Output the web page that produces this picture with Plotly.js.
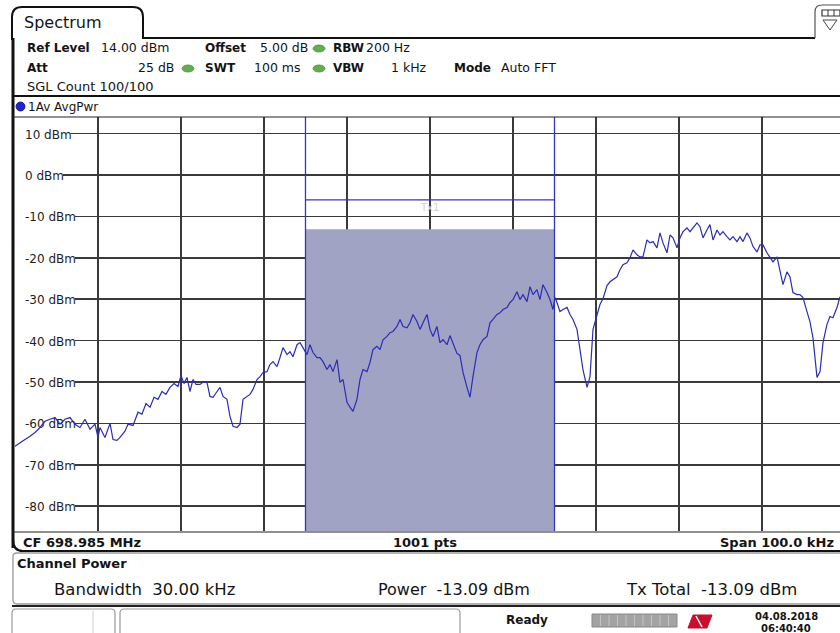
<!DOCTYPE html>
<html>
<head>
<meta charset="utf-8">
<script src="https://cdn.plot.ly/plotly-3.0.1.min.js"></script>
<style>
html,body{margin:0;padding:0;background:#fff;overflow:hidden;}
#chart{width:840px;height:633px;}
</style>
</head>
<body>
<div id="chart"></div>
<script>
// ---------------- data ----------------
// frequency offset from CF (kHz), span 100 kHz
const freqKHz = [-50.0,-49.4,-48.8,-48.19,-47.59,-46.99,-46.39,-45.78,-45.18,-44.58,-43.98,-43.37,-42.77,-42.17,-41.57,-40.96,-40.36,-40.0,-39.76,-39.16,-38.55,-38.19,-37.71,-37.35,-36.75,-36.39,-35.78,-35.18,-34.7,-34.22,-33.73,-33.25,-32.77,-32.29,-31.81,-31.33,-30.84,-30.36,-30.0,-29.64,-29.28,-28.92,-28.55,-28.19,-27.71,-27.35,-26.87,-26.51,-26.14,-25.66,-25.3,-24.94,-24.46,-24.1,-23.73,-23.25,-22.89,-22.53,-22.05,-21.69,-21.33,-20.84,-20.48,-20.12,-19.64,-19.28,-18.92,-18.43,-18.07,-17.71,-17.23,-16.87,-16.51,-16.02,-15.66,-15.3,-14.82,-14.46,-14.1,-13.61,-13.25,-12.89,-12.41,-12.05,-11.69,-11.2,-10.84,-10.48,-10.0,-9.64,-9.28,-8.8,-8.43,-8.07,-7.59,-7.23,-6.87,-6.39,-6.02,-5.66,-5.18,-4.82,-4.46,-3.98,-3.61,-3.25,-2.77,-2.41,-2.05,-1.57,-1.2,-0.84,-0.36,0,0.36,0.84,1.2,1.57,2.05,2.41,2.77,3.25,3.61,3.98,4.46,4.82,5.18,5.66,6.02,6.39,6.87,7.23,7.59,8.07,8.43,8.8,9.28,9.64,10.0,10.48,10.84,11.2,11.69,12.05,12.41,12.89,13.25,13.61,14.1,14.46,14.82,15.06,15.3,15.66,16.02,16.51,16.87,17.23,17.71,18.07,18.43,18.92,19.28,19.64,20.12,20.48,20.84,21.33,21.69,22.05,22.53,22.89,23.25,23.73,24.1,24.46,24.94,25.3,25.66,26.14,26.51,26.87,27.35,27.71,28.07,28.55,28.92,29.28,29.76,30.12,30.48,30.96,31.33,31.69,32.17,32.53,32.89,33.37,33.73,34.1,34.58,34.94,35.3,35.78,36.14,36.51,36.99,37.35,37.71,38.19,38.55,38.92,39.4,39.76,40.12,40.6,40.96,41.33,41.81,42.17,42.53,43.01,43.37,43.73,44.22,44.58,44.94,45.42,45.78,46.14,46.63,46.99,47.35,47.83,48.19,48.55,49.04,49.4];
// trace 1 (Av AvgPwr), dBm
const levelDBm = [-65.5,-64.6,-63.9,-63.1,-62.2,-61.0,-59.5,-59.0,-58.6,-60.2,-59.0,-58.6,-60.2,-61.0,-59.0,-61.4,-60.2,-63.4,-61.0,-63.4,-60.0,-63.9,-64.1,-63.4,-61.9,-60.2,-60.5,-57.3,-57.8,-55.2,-56.1,-53.7,-54.2,-52.3,-53.0,-51.3,-50.4,-51.1,-48.4,-50.4,-48.9,-52.3,-49.4,-50.6,-50.6,-50.1,-50.1,-53.5,-53.7,-52.3,-51.3,-53.5,-54.2,-58.3,-60.7,-61.0,-60.2,-54.2,-53.5,-53.0,-51.8,-49.4,-48.7,-47.7,-47.5,-45.8,-45.1,-46.3,-44.1,-41.7,-43.4,-42.7,-43.9,-41.0,-40.5,-41.7,-43.4,-41.0,-42.9,-44.1,-44.1,-45.1,-47.0,-45.8,-47.5,-44.6,-50.1,-49.4,-54.9,-56.1,-57.1,-54.2,-49.4,-47.0,-47.5,-45.3,-42.2,-41.4,-42.2,-39.8,-39.0,-38.1,-37.8,-36.6,-34.9,-36.6,-36.9,-35.7,-33.7,-35.4,-37.3,-35.7,-33.7,-37.3,-39.0,-36.6,-40.5,-39.8,-41.0,-38.8,-40.5,-43.1,-43.6,-47.7,-51.3,-53.7,-48.7,-42.9,-41.0,-39.8,-39.0,-35.7,-34.9,-33.7,-33.3,-32.5,-32.0,-30.8,-30.1,-28.2,-30.1,-28.9,-30.6,-27.0,-28.9,-27.7,-30.1,-26.5,-28.4,-30.1,-32.5,-29.6,-30.8,-33.0,-32.5,-32.0,-33.7,-34.9,-37.3,-42.2,-47.0,-51.3,-48.7,-37.3,-33.7,-31.3,-29.9,-26.7,-25.8,-25.3,-24.6,-22.9,-21.7,-21.2,-20.0,-18.1,-19.3,-19.8,-19.8,-15.7,-16.4,-16.1,-17.6,-14.0,-16.4,-18.8,-14.5,-15.2,-17.6,-15.2,-13.7,-12.8,-13.7,-12.8,-11.6,-12.5,-15.2,-13.3,-12.0,-15.7,-13.3,-14.5,-13.7,-14.9,-15.7,-14.9,-16.1,-14.9,-16.1,-14.0,-15.2,-17.3,-18.6,-16.9,-16.9,-18.8,-20.0,-21.0,-19.8,-23.4,-26.5,-23.4,-24.6,-28.4,-28.9,-28.9,-29.6,-33.0,-35.4,-39.3,-48.9,-47.5,-40.5,-36.1,-34.2,-34.5,-32.0,-29.4];

const yTickVals   = [10, 0, -10, -20, -30, -40, -50, -60, -70, -80];
const yTickLabels = ['10 dBm','0 dBm','-10 dBm','-20 dBm','-30 dBm','-40 dBm','-50 dBm','-60 dBm','-70 dBm','-80 dBm'];
const xGridVals   = [-40, -30, -20, -10, 0, 10, 20, 30, 40];

const refLevel = 14;          // dBm (top of grid)
const bottomLevel = -86;      // dBm (bottom of grid)
const spanKHz = 100;
const channelBWkHz = 30;
const channelPowerDBm = -13.09;
const txTotalDBm = -13.09;
const channelBracketDBm = -6;

// ---------------- geometry helpers (page px -> paper) ----------------
const L = 15, T = 117, PW = 825, PH = 414;
const xMin = -spanKHz / 2, xMax = 49.4;
const px = x => (x - L) / PW;
const py = y => (T + PH - y) / PH;
const FONT = 'DejaVu Sans, Verdana, sans-serif';
const INK = '#141414';

const shapes = [];
const annotations = [];

function txt(x, y, text, o) {
  o = o || {};
  annotations.push({
    xref: 'paper', yref: 'paper', x: px(x), y: py(y),
    xanchor: o.anchor || 'left', yanchor: 'middle', showarrow: false,
    text: o.bold ? '<b>' + text + '</b>' : text,
    font: {family: FONT, size: o.size || 13, color: o.color || INK}
  });
}
function pline(x0, y0, x1, y1, color, width) {
  shapes.push({type: 'line', xref: 'paper', yref: 'paper',
    x0: px(x0), y0: py(y0), x1: px(x1), y1: py(y1),
    line: {color: color, width: width}});
}
function ppath(d, color, width, fill) {
  const s = d.replace(/(-?\d+(\.\d+)?),(-?\d+(\.\d+)?)/g, (m, a, b, c, e) => px(+a).toFixed(5) + ',' + py(+c).toFixed(5));
  shapes.push({type: 'path', xref: 'paper', yref: 'paper', path: s,
    line: {color: color, width: width}, fillcolor: fill || 'rgba(0,0,0,0)'});
}
function pcircle(x0, y0, x1, y1, fill, lc) {
  shapes.push({type: 'circle', xref: 'paper', yref: 'paper',
    x0: px(x0), y0: py(y0), x1: px(x1), y1: py(y1),
    fillcolor: fill, line: {color: lc || fill, width: 0.8}});
}

// ---------------- channel power region ----------------
const chLo = -channelBWkHz / 2, chHi = channelBWkHz / 2;
shapes.push({type: 'rect', xref: 'x', yref: 'y', x0: chLo, x1: chHi, y0: bottomLevel, y1: channelPowerDBm,
  fillcolor: '#a0a3c4', line: {width: 0}, layer: 'between'});
shapes.push({type: 'line', xref: 'x', yref: 'y', x0: chLo, x1: chLo, y0: bottomLevel, y1: refLevel,
  line: {color: '#3434c4', width: 1.3}, layer: 'between'});
shapes.push({type: 'line', xref: 'x', yref: 'y', x0: chHi, x1: chHi, y0: bottomLevel, y1: refLevel,
  line: {color: '#3434c4', width: 1.3}, layer: 'between'});
shapes.push({type: 'line', xref: 'x', yref: 'y', x0: chLo, x1: chHi, y0: channelBracketDBm, y1: channelBracketDBm,
  line: {color: '#3434c4', width: 1.2}, layer: 'between'});
annotations.push({xref: 'x', yref: 'y', x: 0, y: channelBracketDBm - 1.9, text: 'Tx1', showarrow: false,
  font: {family: FONT, size: 10, color: '#cfd0da'}});

// ---------------- y tick labels on white boxes (under the trace) ----------------
const meas = document.createElement('canvas').getContext('2d');
meas.font = '12px "DejaVu Sans"';
const pxPerKHz = PW / (xMax - xMin);
yTickVals.forEach((v, i) => {
  const w = meas.measureText(yTickLabels[i]).width;
  shapes.push({type: 'rect', xref: 'x', yref: 'y',
    x0: xMin, x1: xMin + (7 + w + 2) / pxPerKHz, y0: v - 1.7, y1: v + 1.7,
    fillcolor: '#ffffff', line: {width: 0}, layer: 'between',
    label: {text: yTickLabels[i], textposition: 'middle left', padding: 7,
      font: {family: FONT, size: 12, color: '#1e1e1e'}}});
});

// ---------------- frame / chrome ----------------
// tab "Spectrum"
ppath('M12,40 L12,17 Q12,7 22,7 L133,7 Q143,7 143,17 L143,38 L815,38', '#111', 2);
txt(22, 22, 'Spectrum', {size: 16});
// top-right icon
ppath('M815,38 L815,12 Q815,5 822,5 L845,5 L845,38', '#555', 1.2);
shapes.push({type: 'rect', xref: 'paper', yref: 'paper', x0: px(822), x1: px(840), y0: py(16), y1: py(10),
  fillcolor: '#ffffff', line: {color: '#333', width: 1.2}});
pline(828, 10, 828, 16, '#333', 1); pline(834, 10, 834, 16, '#333', 1);
ppath('M823,20 L837,20 L830,30 Z', '#444', 1);

// left border
pline(13, 38, 13, 548, '#111', 3);
// separator lines
pline(12, 96, 840, 96, '#111', 2);
pline(12, 117, 840, 117, '#222', 1.2);
pline(12, 532, 840, 532, '#222', 1.2);
ppath('M13,540 Q13,551 23,551 L840,551', '#111', 2.2);

// info block
const g = '#62ad4f';
const S = 12.5;
txt(25, 48, 'Ref Level', {bold: true, size: 12});
txt(99, 48, refLevel.toFixed(2) + ' dBm', {size: S});
txt(203, 48, 'Offset', {bold: true, size: 12});
txt(258, 48, '5.00 dB', {size: S});
pcircle(313, 45, 325, 52, g, '#4d8c3d');
txt(331, 48, 'RBW', {bold: true, size: 12});
txt(364, 48, '200 Hz', {size: S});

txt(25, 68, 'Att', {bold: true, size: 12});
txt(176, 68, '25 dB', {anchor: 'right', size: S});
pcircle(182, 65, 194, 72, g, '#4d8c3d');
txt(203, 68, 'SWT', {bold: true, size: 12});
txt(303, 68, '100 ms', {anchor: 'right', size: S});
pcircle(313, 65, 325, 72, g, '#4d8c3d');
txt(331, 68, 'VBW', {bold: true, size: 12});
txt(429, 68, '1 kHz', {anchor: 'right', size: S});
txt(452, 68, 'Mode', {bold: true, size: 12});
txt(499, 68, 'Auto FFT', {size: S});
txt(25, 87, 'SGL Count 100/100');

// trace label
pcircle(16, 102, 25, 111, '#1f22d8', '#0b0b60');
txt(26, 106.5, '1Av AvgPwr', {size: 12});

// bottom bar of diagram
txt(21, 542, 'CF 698.985 MHz', {bold: true});
txt(425, 542, '1001 pts', {bold: true, anchor: 'center'});
txt(836, 542, 'Span ' + spanKHz.toFixed(1) + ' kHz', {bold: true, anchor: 'right'});

// channel power panel
ppath('M13,556 Q13,553 17,553 L845,553 M13,556 L13,600 Q13,604 17,604 L845,604', '#9a9a9a', 1.3);
txt(15, 563, 'Channel Power', {bold: true});
txt(52, 589, 'Bandwidth&nbsp;&nbsp;' + channelBWkHz.toFixed(2) + ' kHz', {size: 16.5});
txt(376, 589, 'Power&nbsp;&nbsp;' + channelPowerDBm.toFixed(2) + ' dBm', {size: 16});
txt(624, 589, 'Tx Total&nbsp;&nbsp;' + txTotalDBm.toFixed(2) + ' dBm', {size: 16.5});

// status bar
pline(12, 606, 840, 606, '#222', 2);
ppath('M12,633 L12,613 Q12,609 16,609 L111,609 Q115,609 115,613 L115,633', '#9a9a9a', 1.2);
pline(93, 611, 93, 633, '#d0d0d0', 1);
ppath('M120,633 L120,613 Q120,609 124,609 L456,609 Q460,609 460,613 L460,633', '#9a9a9a', 1.2);
txt(527, 620, 'Ready', {bold: true, size: 12, anchor: 'center'});
shapes.push({type: 'rect', xref: 'paper', yref: 'paper', x0: px(592), x1: px(677), y0: py(627), y1: py(614),
  fillcolor: '#a3a3a3', line: {color: '#8a8a8a', width: 1}});
for (let k = 1; k < 10; k++) pline(592 + k * 8.5, 615, 592 + k * 8.5, 626, '#c4c4c4', 1);
ppath('M688,628 L693,615 L712,615 L707,628 Z', '#c8102e', 1, '#c8102e');
pline(696, 616, 702, 627, '#ffffff', 1.5);
txt(786, 616, '04.08.2018', {bold: true, size: 10, anchor: 'center'});
txt(786, 628, '06:40:40', {bold: true, size: 10, anchor: 'center'});

// ---------------- plot ----------------
const trace = {
  type: 'scatter', mode: 'lines', x: freqKHz, y: levelDBm,
  line: {color: '#2c2cb4', width: 1.2, shape: 'linear'},
  hoverinfo: 'skip', showlegend: false
};

const layout = {
  width: 840, height: 633,
  margin: {l: L, r: 0, t: T, b: 633 - T - PH, pad: 0},
  paper_bgcolor: '#ffffff', plot_bgcolor: '#ffffff',
  showlegend: false,
  xaxis: {range: [xMin, xMax], tickvals: xGridVals, showticklabels: false, ticks: '',
    showgrid: true, gridcolor: '#3a3a3a', gridwidth: 1.6, zeroline: false, showline: false, fixedrange: true},
  yaxis: {range: [bottomLevel, refLevel], tickvals: yTickVals, showticklabels: false, ticks: '',
    showgrid: true, gridcolor: '#3a3a3a', gridwidth: 1.6, zeroline: false, showline: false, fixedrange: true},
  shapes: shapes,
  annotations: annotations
};

Plotly.newPlot('chart', [trace], layout, {staticPlot: true, displayModeBar: false});
</script>
</body>
</html>
